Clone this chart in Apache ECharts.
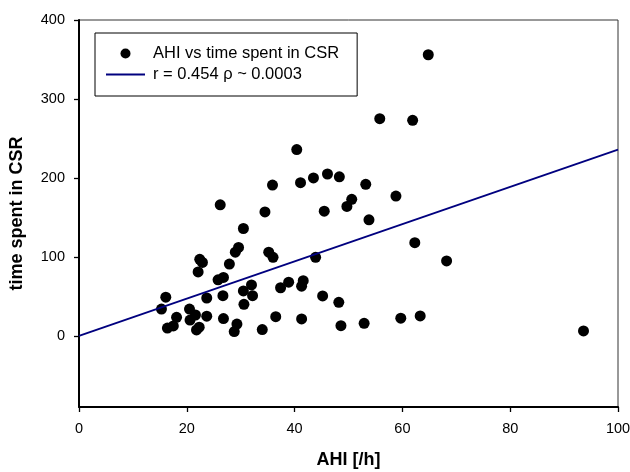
<!DOCTYPE html>
<html>
<head>
<meta charset="utf-8">
<script src="https://cdn.jsdelivr.net/npm/echarts@6/dist/echarts.min.js"></script>
<style>
html,body{margin:0;padding:0;background:#fff;}
#chart{width:630px;height:472px;}
</style>
</head>
<body>
<div id="chart"></div>
<script>
// Data
const ahi = [15.3,16.1,16.4,17.5,18.1,20.5,20.6,21.6,21.8,22.3,22.1,22.4,22.9,23.7,23.7,25.8,26.8,26.7,26.8,26.2,27.9,29.0,29.6,29.3,28.8,30.5,30.5,30.6,32.0,32.2,34.0,34.5,35.2,36.0,35.9,36.5,37.4,38.9,40.4,41.1,41.3,41.6,41.3,43.5,43.9,45.2,45.5,46.1,48.3,48.2,48.6,49.7,50.6,52.9,53.2,53.8,55.8,58.8,59.7,61.9,62.3,63.3,64.8,68.2,93.6];
const csrTime = [34,49,10,12.6,23.6,34,20,26.5,7.6,11,81,97,93,48,25,71,74,51,22,166,91,106,112,15,5.5,136,57,40,64.5,51,8,157,106,99.5,191,24.4,61,68,236,194,63,70,21.5,200,99.5,50.6,158,205,201.5,42.6,13,164,173,16,192,147,275,177,22.4,273,118,25.3,356,95,6.3];
const fitX = [0, 100];
const fitY = [0, 236];
const xTicks = [0, 20, 40, 60, 80, 100];
const yTicks = [0, 100, 200, 300, 400];
const scatterName = 'AHI vs time spent in CSR';
const lineName = 'r = 0.454 \u03c1 ~ 0.0003';

const font = 'Arial, "Liberation Sans", sans-serif';
const chart = echarts.init(document.getElementById('chart'), null, {renderer: 'canvas'});
chart.setOption({
  animation: false,
  backgroundColor: '#fff',
  textStyle: {fontFamily: font},
  grid: {left: 79, right: 12, top: 20, bottom: 65, show: true, borderColor: '#333', borderWidth: 1, containLabel: false, outerBoundsMode: 'none'},
  legend: {
    orient: 'vertical',
    left: 95, top: 33,
    padding: [12, 18, 13, 11],
    borderColor: '#000', borderWidth: 1,
    backgroundColor: '#fff',
    itemWidth: 39, itemHeight: 10,
    itemGap: 4,
    textStyle: {fontFamily: font, fontSize: 16.5, color: '#000', padding: [0, 0, 0, 3]},
    data: [
      {name: scatterName, icon: 'circle'},
      {name: lineName, icon: 'path://M0,0 L39,0 L39,1.8 L0,1.8 Z'}
    ]
  },
  xAxis: {
    type: 'value', min: 0, max: 100, interval: 20,
    name: 'AHI [/h]', nameLocation: 'middle', nameGap: 44,
    nameTextStyle: {fontFamily: font, fontSize: 18, fontWeight: 'bold', color: '#000'},
    axisLine: {show: true, onZero: false, lineStyle: {color: '#000', width: 2}},
    axisTick: {show: true, length: 5, lineStyle: {color: '#000', width: 1.3}},
    axisLabel: {fontFamily: font, fontSize: 14.5, color: '#000', margin: 14, customValues: xTicks},
    splitLine: {show: false}
  },
  yAxis: {
    type: 'value', min: -90, max: 400,
    name: 'time spent in CSR', nameLocation: 'middle', nameGap: 53,
    nameTextStyle: {fontFamily: font, fontSize: 18, fontWeight: 'bold', color: '#000'},
    axisLine: {show: true, onZero: false, lineStyle: {color: '#000', width: 2}},
    axisTick: {show: true, length: 5, lineStyle: {color: '#000', width: 1.3}, customValues: yTicks},
    axisLabel: {fontFamily: font, fontSize: 14.5, color: '#000', margin: 14, customValues: yTicks},
    splitLine: {show: false}
  },
  series: [
    {
      name: scatterName, type: 'scatter',
      data: ahi.map((x, i) => [x, csrTime[i]]),
      symbol: 'circle', symbolSize: 11,
      itemStyle: {color: '#000', opacity: 1}
    },
    {
      name: lineName, type: 'line',
      data: fitX.map((x, i) => [x, fitY[i]]),
      showSymbol: false, symbol: 'none',
      lineStyle: {color: '#00007f', width: 1.8},
      itemStyle: {color: '#00007f'}
    }
  ]
});
</script>
</body>
</html>
